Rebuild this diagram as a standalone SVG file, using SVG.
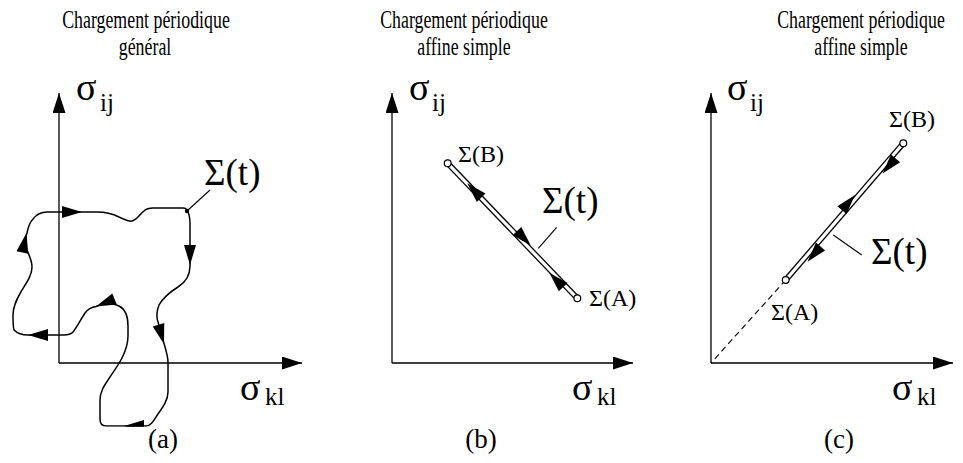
<svg xmlns="http://www.w3.org/2000/svg" width="963" height="463" viewBox="0 0 963 463">
<style>
  .ax { stroke:#000; stroke-width:1.3; fill:none; }
  .crv { stroke:#000; stroke-width:1.5; fill:none; }
  .ld { stroke:#000; stroke-width:1.1; fill:none; }
  .t { font-family:"Liberation Serif","DejaVu Serif",serif; fill:#000; }
  .title { font-size:25px; text-anchor:middle; }
  .sig { font-size:38px; }
  .sub { font-size:25px; }
  .big { font-size:37px; }
  .pt { font-size:24px; }
  .cap { font-size:27px; text-anchor:middle; }
  .dbl1 { stroke:#000; stroke-width:5.8; fill:none; }
  .dbl2 { stroke:#fff; stroke-width:3.2; fill:none; }
  .end { fill:#fff; stroke:#000; stroke-width:1.2; }
</style>
<defs>
  <marker id="axh" markerUnits="userSpaceOnUse" markerWidth="20" markerHeight="13" refX="20" refY="6.5" orient="auto">
    <path d="M0,0 L20,6.5 L0,13 z" fill="#000"/>
  </marker>
  <path id="ah" d="M0,0 L-20,-6 L-20,6 z" fill="#000"/>
  <clipPath id="clipA"><rect x="0" y="0" width="320" height="426.8"/></clipPath>
</defs>

<g id="titles">
  <text class="t title" transform="translate(146,28) scale(0.714,1)">Chargement périodique</text>
  <text class="t title" transform="translate(145,55) scale(0.714,1)">général</text>
  <text class="t title" transform="translate(464,28) scale(0.714,1)">Chargement périodique</text>
  <text class="t title" transform="translate(464,55) scale(0.714,1)">affine simple</text>
  <text class="t title" transform="translate(861,28) scale(0.714,1)">Chargement périodique</text>
  <text class="t title" transform="translate(861,55) scale(0.714,1)">affine simple</text>
</g>

<g id="panel-a">
  <g id="axes-a">
    <line class="ax" x1="59" y1="363" x2="59" y2="93" marker-end="url(#axh)"/>
    <line class="ax" x1="59" y1="363" x2="302" y2="363" marker-end="url(#axh)"/>
    <text class="t sig" x="76" y="100">σ</text><text class="t sub" x="100" y="111">ij</text>
    <text class="t sig" x="240" y="400">σ</text><text class="t sub" x="265" y="405">kl</text>
  </g>
  <g id="curve-a" clip-path="url(#clipA)">
    <path class="crv" d="M187,211 C189,213 190,218 190,224 L190,266 C190,276 186,282 178,287 C170,292 163,298 159,305 C157,310 156,316 158,322 L163,340 C166,350 168,356 168,362 L168,392 C168,400 163,407 158,414 C154,420 151,426 146,426 L106,426 C102,426 100,423 100,419 L100,400 C100,392 104,386 108,380 C113,372 118,366 122,358 C126,350 128,344 128,336 L128,326 C128,316 125,309 119,306 C114,303 108,303 103,304 C100,305 98,305.5 96,306.5 C92,307 88,309 85,313 C81,319 77,327 73,332 C71,334 68,335 64,335 L28,335 C22,335 17,333 14,330 C13,327 13,322 13,315 C13,305 18,297 22,290 C27,282 32,275 32,267 C32,259 28,254 26,247 C25,242 25,238 27,233 C28,228 30,222 33,219 C36,215 40,212 47,212 L97,212 C106,212 113,214 119,217 C124,219 128,222 132,221 C137,220 140,214 144,211 C146,209 149,208 153,208 L183,208 C186,208 187,210 187,211 Z"/>
    <use href="#ah" transform="translate(82,212)"/>
    <use href="#ah" transform="translate(190,265) rotate(90)"/>
    <use href="#ah" transform="translate(164,344) rotate(74)"/>
    <use href="#ah" transform="translate(124,426) rotate(180)"/>
    <use href="#ah" transform="translate(96,306.5) rotate(158)"/>
    <use href="#ah" transform="translate(28,335) rotate(180)"/>
    <use href="#ah" transform="translate(26.5,233) rotate(-78)"/>
  </g>
  <g id="label-a">
    <circle cx="187" cy="211" r="2.2" fill="#000"/>
    <line class="ld" x1="187" y1="211" x2="210" y2="190"/>
    <text class="t big" x="204" y="185">Σ(t)</text>
  </g>
  <text class="t cap" x="163" y="448">(a)</text>
</g>

<g id="panel-b">
  <g id="axes-b">
    <line class="ax" x1="392" y1="363" x2="392" y2="93" marker-end="url(#axh)"/>
    <line class="ax" x1="392" y1="363" x2="633" y2="363" marker-end="url(#axh)"/>
    <text class="t sig" x="409" y="100">σ</text><text class="t sub" x="432" y="111">ij</text>
    <text class="t sig" x="572" y="400">σ</text><text class="t sub" x="597" y="405">kl</text>
  </g>
  <g id="path-b">
    <line class="dbl1" x1="447.7" y1="163.3" x2="577.3" y2="298.3"/>
    <line class="dbl2" x1="447.7" y1="163.3" x2="577.3" y2="298.3"/>
    <use href="#ah" transform="translate(467.3,183.3) rotate(-133.8)"/>
    <use href="#ah" transform="translate(530.8,245.6) rotate(46.2)"/>
    <use href="#ah" transform="translate(549.3,272.7) rotate(-133.8)"/>
    <circle class="end" cx="447.7" cy="163.3" r="3.4"/>
    <circle class="end" cx="577.3" cy="298.3" r="3.4"/>
  </g>
  <g id="label-b">
    <line class="ld" x1="556.7" y1="227.3" x2="538.3" y2="248.3"/>
    <text class="t big" x="542" y="213">Σ(t)</text>
    <text class="t pt" x="458" y="162">Σ(B)</text>
    <text class="t pt" x="589" y="306">Σ(A)</text>
  </g>
  <text class="t cap" x="481" y="448">(b)</text>
</g>

<g id="panel-c">
  <g id="axes-c">
    <line class="ax" x1="711" y1="363" x2="711" y2="93" marker-end="url(#axh)"/>
    <line class="ax" x1="711" y1="363" x2="953" y2="363" marker-end="url(#axh)"/>
    <text class="t sig" x="727" y="100">σ</text><text class="t sub" x="750" y="111">ij</text>
    <text class="t sig" x="892" y="400">σ</text><text class="t sub" x="917" y="405">kl</text>
  </g>
  <g id="path-c">
    <line x1="785.7" y1="280" x2="711" y2="363" stroke="#000" stroke-width="1.1" stroke-dasharray="6,4"/>
    <line class="dbl1" x1="903.3" y1="143.3" x2="785.7" y2="280"/>
    <line class="dbl2" x1="903.3" y1="143.3" x2="785.7" y2="280"/>
    <use href="#ah" transform="translate(882.5,173.5) rotate(130.7)"/>
    <use href="#ah" transform="translate(855,195) rotate(-49.3)"/>
    <use href="#ah" transform="translate(807.5,261.7) rotate(130.7)"/>
    <circle class="end" cx="903.3" cy="143.3" r="3.4"/>
    <circle class="end" cx="785.7" cy="280" r="3.4"/>
  </g>
  <g id="label-c">
    <line class="ld" x1="833.3" y1="235" x2="861.7" y2="255"/>
    <text class="t big" x="871" y="264">Σ(t)</text>
    <text class="t pt" x="889" y="127">Σ(B)</text>
    <text class="t pt" x="771" y="320">Σ(A)</text>
  </g>
  <text class="t cap" x="839" y="448">(c)</text>
</g>
</svg>
